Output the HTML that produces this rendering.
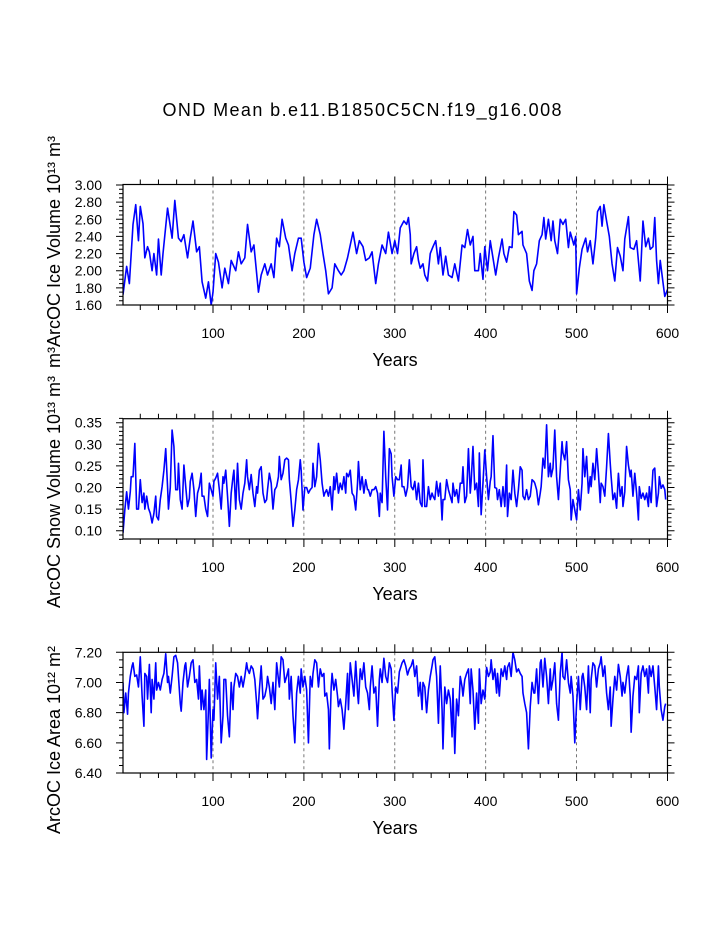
<!DOCTYPE html>
<html><head><meta charset="utf-8">
<style>
html,body{margin:0;padding:0;background:#fff;}
svg{display:block;font-family:"Liberation Sans",Arial,sans-serif;}
</style></head>
<body>
<svg id="chart" width="723" height="935" viewBox="0 0 723 935" xmlns="http://www.w3.org/2000/svg">
<rect x="0" y="0" width="723" height="935" fill="#fff"/>
<text x="362" y="116" font-size="18" text-anchor="middle" textLength="399">OND Mean b.e11.B1850C5CN.f19_g16.008</text>
</svg>
<script>
// ---- data: panel 1 (ice volume) ----
const volYears = [1,5,8,12,15,18,20,23,25,28,30,33,35,38,40,43,45,50,55,58,62,65,68,72,75,78,82,85,88,92,95,98,100,103,106,110,113,117,120,125,128,131,135,138,142,145,150,153,157,160,164,167,170,173,176,180,183,187,190,194,197,200,203,207,211,214,218,221,224,227,231,234,238,241,244,248,251,254,258,261,265,268,272,275,279,282,286,290,293,297,300,303,306,310,313,315,317,318,321,324,326,328,331,333,336,339,342,345,348,350,353,356,359,363,366,370,374,377,380,383,386,388,392,394,397,399,402,405,408,411,414,418,420,423,426,429,431,434,436,440,441,445,448,451,453,456,459,462,464,466,469,472,474,476,479,482,485,488,491,493,497,499,500,503,506,510,512,515,518,521,523,526,528,530,533,536,539,542,545,548,551,553,557,559,563,566,570,573,576,579,581,584,586,588,590,592,594,597,600];
const volValues = [1.72,2.05,1.85,2.54,2.77,2.35,2.75,2.55,2.15,2.28,2.22,2.0,2.2,1.95,2.37,1.95,2.2,2.73,2.38,2.82,2.38,2.34,2.42,2.15,2.38,2.58,2.22,2.28,1.87,1.68,1.87,1.6,1.75,2.2,2.1,1.8,2.03,1.85,2.12,2.0,2.22,2.08,2.15,2.54,2.22,2.3,1.75,1.95,2.08,1.95,2.08,1.92,2.38,2.28,2.6,2.38,2.3,2.0,2.2,2.38,2.38,2.1,1.92,2.03,2.42,2.6,2.42,2.2,2.0,1.73,1.8,2.08,2.0,1.95,2.0,2.15,2.3,2.45,2.2,2.35,2.28,2.12,2.15,2.22,1.85,2.08,2.3,2.2,2.45,2.2,2.35,2.2,2.5,2.58,2.54,2.62,2.42,2.08,2.2,2.28,2.12,2.03,2.08,1.95,1.88,2.2,2.28,2.35,2.08,2.27,1.95,2.17,1.95,1.92,2.08,1.88,2.3,2.27,2.48,2.3,2.4,2.0,2.0,2.2,1.9,2.28,2.0,2.35,2.15,1.95,2.15,2.37,2.2,2.1,2.28,2.27,2.69,2.65,2.42,2.46,2.3,2.2,1.88,1.77,2.0,2.08,2.35,2.42,2.62,2.37,2.6,2.35,2.58,2.35,2.2,2.6,2.54,2.6,2.27,2.45,2.3,2.4,1.73,2.03,2.25,2.38,2.22,2.35,2.08,2.38,2.69,2.75,2.52,2.77,2.58,2.4,2.08,1.88,2.27,2.17,2.0,2.37,2.63,2.27,2.25,2.35,1.88,2.58,2.28,2.38,2.25,2.28,2.62,2.12,1.85,2.12,1.95,1.7,1.78];

// ---- data: panel 2 (snow volume) ----
const snowYears = [1,3,5,7,9,10,12,14,16,18,20,22,24,25,27,29,31,33,35,37,38,40,42,44,46,48,50,51,53,55,57,59,61,62,64,66,68,70,72,74,75,77,79,81,83,85,87,88,90,92,94,96,98,100,101,103,105,107,109,111,112,114,116,118,120,122,123,125,127,129,131,133,135,137,138,140,142,144,146,148,149,151,153,155,157,159,160,162,164,166,168,170,172,173,175,177,179,181,183,184,186,188,190,192,194,196,197,199,201,203,205,207,209,210,212,214,216,218,220,222,223,225,227,229,231,233,234,236,238,240,242,244,246,247,249,251,253,255,257,259,260,262,264,266,268,270,271,273,275,277,279,281,283,284,286,288,290,292,294,296,297,299,301,303,305,307,308,310,312,314,316,318,320,322,324,326,328,330,331,333,335,337,339,341,342,344,346,348,350,352,353,355,357,359,361,363,364,366,368,370,372,374,375,377,379,381,383,384,386,388,390,392,393,395,397,399,401,403,405,406,408,410,412,413,415,417,419,421,423,424,426,428,430,432,434,436,438,440,441,443,445,447,449,451,453,454,456,458,460,461,463,465,467,469,471,472,474,476,478,480,482,484,485,487,489,491,493,494,496,498,500,502,504,506,507,509,511,513,515,516,518,520,522,524,526,527,529,531,533,535,537,538,540,542,544,546,548,550,551,553,555,557,559,560,562,564,566,568,569,571,573,575,577,579,580,582,584,586,588,590,591,593,595,597,598];
const snowValues = [0.095,0.148,0.19,0.15,0.19,0.225,0.225,0.302,0.15,0.15,0.218,0.165,0.187,0.15,0.18,0.152,0.14,0.118,0.14,0.18,0.133,0.125,0.172,0.202,0.24,0.29,0.202,0.15,0.2,0.333,0.295,0.195,0.195,0.256,0.172,0.15,0.252,0.202,0.156,0.175,0.214,0.233,0.195,0.133,0.187,0.202,0.233,0.18,0.18,0.15,0.133,0.21,0.195,0.18,0.214,0.222,0.233,0.195,0.15,0.225,0.21,0.24,0.18,0.11,0.187,0.225,0.24,0.15,0.256,0.172,0.15,0.187,0.21,0.264,0.225,0.195,0.23,0.187,0.156,0.202,0.187,0.24,0.248,0.187,0.165,0.172,0.195,0.233,0.21,0.15,0.195,0.202,0.225,0.272,0.218,0.233,0.264,0.268,0.264,0.218,0.168,0.11,0.148,0.195,0.218,0.264,0.24,0.148,0.2,0.2,0.187,0.195,0.2,0.256,0.202,0.225,0.302,0.264,0.21,0.18,0.187,0.195,0.18,0.202,0.148,0.225,0.195,0.233,0.187,0.21,0.195,0.225,0.187,0.233,0.225,0.24,0.187,0.18,0.148,0.21,0.26,0.195,0.225,0.187,0.218,0.195,0.195,0.18,0.195,0.195,0.202,0.187,0.133,0.187,0.165,0.33,0.225,0.148,0.29,0.278,0.225,0.18,0.225,0.218,0.218,0.252,0.202,0.202,0.18,0.2,0.264,0.202,0.195,0.214,0.172,0.21,0.165,0.156,0.264,0.156,0.156,0.202,0.172,0.187,0.18,0.172,0.214,0.18,0.21,0.125,0.172,0.172,0.218,0.195,0.18,0.165,0.21,0.18,0.195,0.165,0.21,0.21,0.248,0.165,0.18,0.29,0.187,0.214,0.295,0.195,0.21,0.156,0.28,0.137,0.21,0.287,0.225,0.172,0.214,0.225,0.32,0.2,0.198,0.172,0.195,0.156,0.202,0.156,0.252,0.133,0.187,0.172,0.24,0.187,0.156,0.195,0.248,0.24,0.18,0.172,0.195,0.172,0.18,0.218,0.214,0.21,0.195,0.16,0.187,0.202,0.268,0.245,0.345,0.225,0.256,0.225,0.245,0.333,0.225,0.172,0.24,0.306,0.28,0.264,0.306,0.218,0.195,0.125,0.172,0.148,0.125,0.195,0.148,0.21,0.29,0.225,0.272,0.187,0.225,0.202,0.256,0.218,0.29,0.233,0.165,0.21,0.202,0.18,0.248,0.325,0.256,0.225,0.172,0.187,0.152,0.233,0.18,0.202,0.156,0.19,0.295,0.252,0.225,0.24,0.18,0.233,0.187,0.125,0.202,0.175,0.187,0.172,0.187,0.156,0.202,0.165,0.24,0.245,0.156,0.187,0.225,0.198,0.206,0.195,0.172];

// ---- data: panel 3 (ice area) ----
const areaYears = [1,2,4,6,7,9,11,12,14,16,18,20,22,24,25,27,28,30,32,33,35,37,38,40,42,44,46,48,50,51,53,55,57,59,61,62,64,65,67,69,70,72,74,76,78,80,82,84,85,87,88,90,92,93,95,96,98,100,101,103,105,107,109,111,112,114,116,118,120,122,123,125,127,129,131,133,135,137,138,140,142,144,146,148,149,151,153,155,157,159,160,162,164,166,168,170,172,173,175,177,179,181,183,184,186,188,190,192,194,196,197,199,201,203,205,207,209,210,212,214,216,218,220,222,223,225,227,228,230,231,233,235,237,238,240,242,244,246,248,249,251,253,255,257,259,260,262,264,266,268,270,272,273,275,277,279,281,283,284,286,288,290,292,294,296,297,299,301,303,305,307,308,310,312,314,316,318,320,322,324,326,328,330,331,333,335,337,339,341,342,344,346,348,350,352,353,355,357,359,361,363,364,366,368,370,372,374,375,377,379,381,383,384,386,388,390,392,393,395,397,399,401,403,405,406,408,410,412,413,415,417,419,421,423,424,426,428,430,432,434,436,438,440,441,443,445,447,449,451,453,454,456,458,460,461,463,465,467,469,471,472,474,476,478,480,482,484,485,487,489,491,493,494,496,498,500,502,504,506,507,509,511,513,515,516,518,520,522,524,526,527,529,531,533,535,537,538,540,542,544,546,548,550,551,553,555,557,559,560,562,564,566,568,569,571,573,575,577,579,580,582,584,586,588,590,591,593,595,597,598];
const areaValues = [7.0,6.8,6.93,6.79,6.93,7.04,7.11,7.13,7.04,7.05,6.97,7.17,6.91,6.71,7.06,7.04,6.89,7.12,6.8,7.02,6.89,7.13,6.95,7.0,6.95,7.02,7.06,7.19,7.0,7.04,6.93,7.04,7.17,7.18,7.13,7.04,6.86,6.81,7.0,7.11,7.13,6.97,7.04,7.13,7.15,7.0,7.02,6.89,7.11,6.82,6.95,6.82,6.95,6.49,6.82,7.02,6.5,6.82,6.75,7.13,6.89,7.04,6.6,6.78,7.02,7.02,6.78,6.64,7.0,6.82,6.97,7.06,7.04,6.97,7.04,6.97,7.04,7.13,7.09,7.06,7.11,7.09,7.02,6.86,6.76,6.95,7.11,6.89,6.91,6.97,7.04,6.97,6.86,7.0,6.82,7.13,7.02,6.97,7.17,7.15,7.0,7.04,7.09,6.89,7.04,6.78,6.6,6.93,7.04,6.93,7.09,6.97,7.04,6.95,6.6,7.04,6.97,7.06,7.15,7.13,6.97,7.09,7.04,7.06,6.91,6.93,6.82,6.56,6.97,7.06,6.95,7.02,6.91,6.84,6.89,6.82,6.69,6.86,7.06,6.82,7.13,7.02,6.91,7.14,6.93,6.86,7.09,7.02,7.13,6.97,6.93,6.82,6.97,7.11,6.93,6.97,6.71,7.02,7.09,7.0,7.16,7.04,7.0,7.13,7.09,6.95,6.75,6.97,6.93,7.07,7.11,7.13,7.15,7.11,7.05,7.09,7.11,7.15,7.04,7.11,6.91,7.0,6.82,7.0,6.97,6.8,6.95,7.04,7.11,7.15,7.17,7.04,6.73,7.11,6.82,6.56,6.97,6.86,6.95,6.89,6.64,6.96,6.53,6.89,6.78,7.04,6.97,6.91,7.02,7.06,7.09,6.86,7.09,6.95,6.69,6.93,6.73,7.09,6.86,6.95,6.89,7.1,7.04,7.07,7.15,7.02,7.09,6.93,7.06,6.91,7.09,7.04,7.11,7.02,7.1,7.13,7.04,7.2,7.15,7.07,7.09,7.06,7.04,6.93,6.86,6.8,6.56,6.84,7.0,6.93,6.93,7.09,6.86,7.13,7.15,6.97,7.16,7.04,6.86,7.09,6.95,7.02,7.13,6.86,6.75,7.06,7.2,7.04,7.02,7.15,7.0,6.93,7.04,6.91,6.6,6.86,7.04,6.82,7.04,7.06,6.97,6.82,7.11,6.8,7.02,7.13,7.11,6.97,7.09,7.13,7.17,7.04,7.11,6.93,6.82,6.97,6.71,6.89,7.04,6.95,7.12,7.04,6.91,7.0,6.93,7.04,7.11,6.91,6.67,6.91,7.04,7.02,7.11,6.8,7.06,7.11,7.04,7.09,6.93,7.11,7.04,7.11,6.97,6.82,7.11,6.97,6.82,6.75,6.84,6.86];

// ---- axis tick labels ----
const xTickYears = [100,200,300,400,500,600];
const volTicks = [1.60,1.80,2.00,2.20,2.40,2.60,2.80,3.00];
const snowTicks = [0.10,0.15,0.20,0.25,0.30,0.35];
const areaTicks = [6.40,6.60,6.80,7.00,7.20];

const NS = "http://www.w3.org/2000/svg";
const svg = document.getElementById('chart');
function mk(tag, attrs, parent){
  const e = document.createElementNS(NS, tag);
  for (const k in attrs) e.setAttribute(k, attrs[k]);
  (parent || svg).appendChild(e);
  return e;
}
const X0 = 122.1, XPY = (667.5 - 122.1) / 600;
function xScale(yr){ return X0 + yr * XPY; }

function drawPanel(cfg){
  const g = mk('g', {});
  
  
  const L = 123, R = 667.5, T = cfg.top, B = cfg.bottom;
  const yScale = v => cfg.pxA + (v - cfg.vA) * (cfg.pxB - cfg.pxA) / (cfg.vB - cfg.vA);
  // dashed gridlines
  for (const yr of xTickYears.slice(0, 5)) {
    const l = mk('line', {x1: xScale(yr), x2: xScale(yr), y1: T, y2: B, stroke: '#555', 'stroke-width': 0.8, 'stroke-dasharray': '3,3'}, g);
    
    
  }
  // series line
  const ys = cfg.years, vs = cfg.values, n = Math.min(ys.length, vs.length);
  let d = '';
  for (let i = 0; i < n; i++) d += (i ? 'L' : 'M') + xScale(ys[i]).toFixed(2) + ',' + yScale(vs[i]).toFixed(2);
  const clipId = 'clip-' + cfg.name;
  const cp = mk('clipPath', {id: clipId}, g);
  mk('rect', {x: L, y: T, width: R - L, height: B - T}, cp);
  const p = mk('path', {d: d, fill: 'none', stroke: '#0000ff', 'stroke-width': 1.6, 'stroke-linejoin': 'round', 'clip-path': 'url(#' + clipId + ')'}, g);
  
  
  // frame
  const fr = mk('rect', {x: L, y: T, width: R - L, height: B - T, fill: 'none', stroke: '#000', 'stroke-width': 1.2}, g);
  
  
  // x ticks (top & bottom, outward)
  let tk = '';
  for (let yr = 20; yr <= 600; yr += 20) {
    const x = xScale(yr), len = (yr % 100 === 0) ? 8 : 5;
    tk += 'M' + x + ',' + B + 'v' + len + 'M' + x + ',' + T + 'v' + (-len);
  }
  // y ticks (left & right, outward)
  const minorSteps = Math.round((cfg.vB - cfg.vA) / cfg.minor);
  for (let i = 0; i <= minorSteps; i++) {
    const v = cfg.vA + i * cfg.minor, y = yScale(v);
    if (y < T - 0.5 || y > B + 0.5) continue;
    const isMaj = Math.abs(Math.round(v / cfg.major) * cfg.major - v) < 1e-6;
    const len = isMaj ? 7 : 4;
    tk += 'M' + L + ',' + y + 'h' + (-len) + 'M' + R + ',' + y + 'h' + len;
  }
  for (let v = cfg.vB + cfg.minor; yScale(v) >= T - 0.5; v += cfg.minor) {
    const y = yScale(v); tk += 'M' + L + ',' + y + 'h-4M' + R + ',' + y + 'h4';
  }
  for (let v = cfg.vA - cfg.minor; yScale(v) <= B + 0.5; v -= cfg.minor) {
    const y = yScale(v); tk += 'M' + L + ',' + y + 'h-4M' + R + ',' + y + 'h4';
  }
  const tp = mk('path', {d: tk, stroke: '#000', 'stroke-width': 1, fill: 'none'}, g);
  
  
  // x tick labels
  for (const yr of xTickYears) {
    const t = mk('text', {x: xScale(yr), y: B + 33, 'font-size': 14, 'text-anchor': 'middle'}, g);
    t.textContent = String(yr);
    
    
  }
  // y tick labels
  for (const v of cfg.ticks) {
    const t = mk('text', {x: 102, y: yScale(v) + 5, 'font-size': 14, 'text-anchor': 'end'}, g);
    t.textContent = v.toFixed(2);
    
    
  }
  // x axis title
  const xt = mk('text', {x: 395, y: B + 61, 'font-size': 18, 'text-anchor': 'middle'}, g);
  xt.textContent = 'Years';
  
  
  // y axis title
  const yt = mk('text', {x: 0, y: 0, 'font-size': 18, 'text-anchor': 'middle', transform: 'translate(' + cfg.titleX + ',' + cfg.titleY + ') rotate(-90)'}, g);
  yt.textContent = cfg.title;
  
  
}

drawPanel({name: 'ice-volume', top: 184.5, bottom: 305, vA: 1.6, pxA: 305, vB: 3.0, pxB: 185,
  major: 0.2, minor: 0.05, ticks: volTicks, years: volYears, values: volValues,
  title: 'm\u00B3ArcOC Ice Volume 10\u00B9\u00B3 m\u00B3', titleX: 60, titleY: 252});
drawPanel({name: 'snow-volume', top: 418.7, bottom: 539, vA: 0.10, pxA: 530.7, vB: 0.35, pxB: 422.7,
  major: 0.05, minor: 0.01, ticks: snowTicks, years: snowYears, values: snowValues,
  title: 'ArcOC Snow Volume 10\u00B9\u00B3 m\u00B3', titleX: 60, titleY: 492});
drawPanel({name: 'ice-area', top: 652.3, bottom: 773, vA: 6.4, pxA: 773, vB: 7.2, pxB: 652.3,
  major: 0.2, minor: 0.05, ticks: areaTicks, years: areaYears, values: areaValues,
  title: 'ArcOC Ice Area 10\u00B9\u00B2 m\u00B2', titleX: 60, titleY: 740});
</script>
</body></html>
